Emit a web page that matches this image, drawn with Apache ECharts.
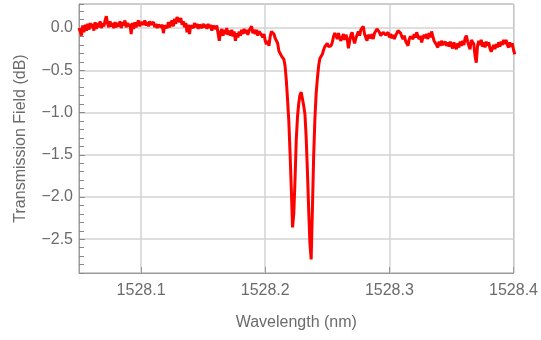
<!DOCTYPE html>
<html>
<head>
<meta charset="utf-8">
<script src="https://cdn.jsdelivr.net/npm/echarts@6/dist/echarts.min.js"></script>
<style>html,body{margin:0;padding:0;background:#fff}#c{width:541px;height:340px}</style>
</head>
<body>
<div id="c"></div>
<script>
// Sampled wavelengths: start + step * index (nm)
var wavelengthStart = 1528.050;
var wavelengthStep = 0.001;
// Transmission field (dB), one value per sampled wavelength
var transmission = [
 0.00,-0.04,-0.09,0.03,-0.05,0.04,-0.03,0.05,-0.02,0.06,0.00,
 0.05,-0.03,0.07,-0.01,0.06,0.01,0.08,0.00,0.06,0.02,
 0.09,0.14,0.05,0.01,0.08,0.02,0.06,0.00,0.07,0.01,
 0.06,0.02,0.08,0.00,0.07,0.03,0.09,0.01,0.06,0.02,
 0.05,-0.07,0.06,-0.01,0.07,0.01,0.06,0.09,0.02,0.07,0.08,
 0.04,0.09,0.03,0.07,0.02,0.08,0.04,0.03,0.07,0.01,
 0.05,0.00,0.04,0.06,0.01,0.04,-0.06,0.03,0.05,0.00,
 0.07,0.01,0.06,0.09,0.02,0.11,0.05,0.13,0.15,0.07,
 0.12,0.04,0.08,0.01,0.06,-0.05,0.04,-0.07,0.03,0.05,
 0.00,0.06,0.01,0.05,-0.01,0.04,0.06,0.00,0.05,0.01,
 0.04,-0.01,0.05,0.00,0.04,-0.03,0.03,0.05,-0.01,0.03,
 -0.06,-0.15,-0.05,-0.01,-0.09,-0.02,-0.07,0.00,-0.08,-0.03,
 -0.09,-0.02,-0.10,-0.04,-0.15,-0.06,-0.11,-0.04,-0.09,-0.02,
 -0.07,-0.01,-0.06,-0.02,-0.08,-0.03,-0.01,0.02,-0.06,-0.02,
 -0.07,-0.02,-0.09,-0.04,-0.05,-0.08,-0.11,-0.07,-0.15,-0.19,
 -0.15,-0.21,-0.10,-0.04,-0.02,-0.07,-0.12,-0.13,-0.18,-0.27,
 -0.28,-0.33,-0.35,-0.37,-0.45,-0.62,-0.85,-1.10,-1.48,-1.90,
 -2.36,-2.20,-1.80,-1.32,-1.05,-0.89,-0.79,-0.76,-0.84,-0.92,
 -1.02,-1.30,-1.70,-2.15,-2.55,-2.74,-2.15,-1.52,-1.08,-0.78,
 -0.60,-0.45,-0.36,-0.34,-0.31,-0.26,-0.22,-0.20,-0.18,-0.22,
 -0.24,-0.21,-0.17,-0.10,-0.06,-0.09,
 -0.13,-0.06,-0.12,-0.15,-0.11,-0.07,-0.14,-0.08,-0.12,-0.24,
 -0.16,-0.08,-0.05,-0.13,-0.18,-0.12,-0.10,-0.04,-0.09,-0.02,
 0.00,0.02,-0.07,-0.11,-0.15,-0.08,-0.06,-0.12,-0.07,-0.13,
 -0.06,-0.04,-0.01,0.01,-0.05,-0.09,-0.11,-0.05,-0.03,-0.08,
 -0.10,-0.05,-0.11,-0.07,-0.12,-0.08,-0.13,-0.09,-0.06,-0.03,
 -0.01,-0.06,-0.10,-0.13,-0.09,-0.15,-0.18,-0.21,-0.13,-0.10,
 -0.08,-0.13,-0.07,-0.11,-0.05,-0.10,-0.13,-0.09,-0.17,-0.11,
 -0.08,-0.12,-0.07,-0.13,-0.06,-0.11,-0.04,-0.10,-0.15,-0.17,
 -0.20,-0.23,-0.16,-0.21,-0.15,-0.20,-0.22,-0.16,-0.21,-0.17,
 -0.22,-0.16,-0.21,-0.24,-0.17,-0.22,-0.25,-0.18,-0.23,-0.16,
 -0.21,-0.15,-0.20,-0.12,-0.09,-0.16,-0.21,-0.25,-0.14,-0.12,
 -0.19,-0.33,-0.41,-0.21,-0.15,-0.20,-0.14,-0.22,-0.17,-0.23,
 -0.16,-0.21,-0.17,-0.24,-0.28,-0.24,-0.20,-0.25,-0.19,-0.23,
 -0.17,-0.22,-0.16,-0.20,-0.14,-0.19,-0.14,-0.20,-0.23,-0.17,
 -0.22,-0.18,-0.26,-0.31
];
var xTicks = [1528.1, 1528.2, 1528.3, 1528.4];
var yTicks = [-2.5, -2.0, -1.5, -1.0, -0.5, 0.0];
var xRange = [1528.05, 1528.4];
var yRange = [-2.9, 0.285];

var points = transmission.map(function (v, i) {
  return [wavelengthStart + wavelengthStep * i, v];
});

var textColor = '#6b6b6b';
var fontFam = '"Liberation Sans", Arial, sans-serif';
var chart = echarts.init(document.getElementById('c'), null, {renderer: 'canvas'});
chart.setOption({
  animation: false,
  grid: {left: 79, right: 26, top: 4, bottom: 67, show: true, borderColor: '#9a9a9a', borderWidth: 1},
  xAxis: {
    type: 'value', min: xRange[0], max: xRange[1],
    name: 'Wavelength (nm)', nameLocation: 'middle', nameGap: 42,
    nameTextStyle: {color: textColor, fontSize: 16, fontFamily: fontFam},
    axisLine: {show: true, onZero: false, lineStyle: {color: '#9a9a9a', width: 1}},
    axisTick: {show: true, inside: true, length: 6, customValues: xTicks, lineStyle: {color: '#9a9a9a'}},
    axisLabel: {customValues: xTicks, color: textColor, fontSize: 16, fontFamily: fontFam, margin: 10,
      formatter: function (v) { return v.toFixed(1); }},
    splitLine: {show: true, lineStyle: {color: '#d3d3d3', width: 1.5}}
  },
  yAxis: [{
    type: 'value', min: yRange[0], max: yRange[1],
    name: 'Transmission Field (dB)', nameLocation: 'middle', nameGap: 50,
    nameTextStyle: {color: textColor, fontSize: 16, fontFamily: fontFam},
    axisLine: {show: true, onZero: false, lineStyle: {color: '#9a9a9a', width: 1}},
    axisTick: {show: true, inside: true, length: 6, customValues: yTicks, lineStyle: {color: '#9a9a9a'}},
    axisLabel: {customValues: yTicks, color: textColor, fontSize: 16, fontFamily: fontFam, margin: 6,
      formatter: function (v) { return v === 0 ? '0.0' : (v < 0 ? '\u2212' : '') + Math.abs(v).toFixed(1); }},
    splitLine: {show: true, lineStyle: {color: '#d3d3d3', width: 1.5}}
  }, {
    type: 'value', min: yRange[0], max: yRange[1], interval: 0.1, position: 'left',
    axisLine: {show: false, onZero: false}, axisLabel: {show: false}, splitLine: {show: false},
    axisTick: {show: true, inside: true, length: 5, lineStyle: {color: '#8a8a8a'}}
  }],
  series: [{
    type: 'line', data: points, showSymbol: false, symbol: 'none',
    lineStyle: {color: '#ff0000', width: 3}, yAxisIndex: 0
  }]
});
</script>
</body>
</html>
